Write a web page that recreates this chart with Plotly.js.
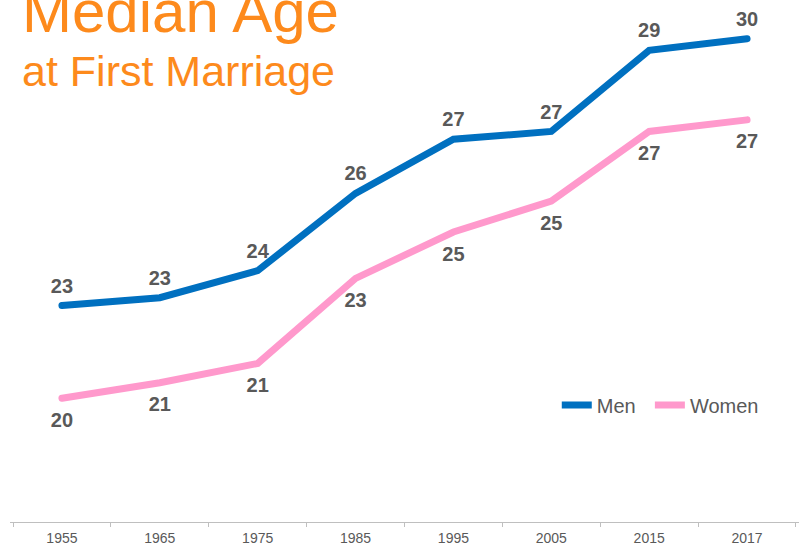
<!DOCTYPE html>
<html>
<head>
<meta charset="utf-8">
<script src="https://cdn.plot.ly/plotly-3.0.1.min.js"></script>
<style>
  html, body { margin: 0; padding: 0; background: #ffffff; }
  #chart { width: 804px; height: 546px; }
  .scatterlayer .js-line { stroke-linecap: round; }
</style>
</head>
<body>
<div id="chart"></div>
<script>
// Data
var years = ['1955', '1965', '1975', '1985', '1995', '2005', '2015', '2017'];
var menAge = [22.6, 22.8, 23.5, 25.5, 26.9, 27.1, 29.2, 29.5];
var womenAge = [20.2, 20.6, 21.1, 23.3, 24.5, 25.3, 27.1, 27.4];
var seriesNames = ['Men', 'Women'];
var titleMain = 'Median Age';
var titleSub = 'at First Marriage';

var labelFont = { family: 'Liberation Sans, Arial, sans-serif', size: 20, color: '#595959', weight: 'bold' };

var traces = [
  {
    x: years, y: menAge, name: seriesNames[0], type: 'scatter', mode: 'lines+markers+text',
    line: { color: '#0070C0', width: 7 },
    marker: { size: 11, color: 'rgba(0,0,0,0)' },
    texttemplate: '<b>%{y:.0f}</b>', textposition: 'top center',
    textfont: labelFont, cliponaxis: false, hoverinfo: 'skip',
    legend: 'legend'
  },
  {
    x: years, y: womenAge, name: seriesNames[1], type: 'scatter', mode: 'lines+markers+text',
    line: { color: '#FF99CC', width: 7 },
    marker: { size: 20, color: 'rgba(0,0,0,0)' },
    texttemplate: '<b>%{y:.0f}</b>', textposition: 'bottom center',
    textfont: labelFont, cliponaxis: false, hoverinfo: 'skip',
    legend: 'legend2'
  }
];

var legendCommon = {
  orientation: 'h', xanchor: 'left', y: 0.224, yanchor: 'middle',
  font: { size: 20, color: '#595959' }, bgcolor: 'rgba(0,0,0,0)'
};

var layout = {
  width: 804, height: 546,
  margin: { l: 10, r: 5, t: 0, b: 24, autoexpand: false },
  paper_bgcolor: '#ffffff', plot_bgcolor: '#ffffff',
  font: { family: 'Liberation Sans, Arial, sans-serif', color: '#595959' },
  xaxis: {
    type: 'category', tickson: 'boundaries', ticks: 'outside', ticklen: 4,
    tickcolor: '#BFBFBF', showline: true, linecolor: '#BFBFBF', linewidth: 1,
    showgrid: false, zeroline: false, fixedrange: true, ticklabelstandoff: 3,
    tickfont: { size: 14, color: '#595959' }
  },
  yaxis: { range: [17.0, 30.5], visible: false, fixedrange: true },
  showlegend: true,
  legend: Object.assign({}, legendCommon, { x: 0.693 }),
  legend2: Object.assign({}, legendCommon, { x: 0.811 }),
  annotations: [
    {
      text: titleMain, xref: 'paper', yref: 'paper', x: 0.0127, y: 0.9105,
      xanchor: 'left', yanchor: 'bottom', showarrow: false,
      font: { family: 'Liberation Sans, Arial, sans-serif', size: 60, color: '#FD8A1C' }
    },
    {
      text: titleSub, xref: 'paper', yref: 'paper', x: 0.0127, y: 0.814,
      xanchor: 'left', yanchor: 'bottom', showarrow: false,
      font: { family: 'Liberation Sans, Arial, sans-serif', size: 43, color: '#FD8A1C' }
    }
  ]
};

Plotly.newPlot('chart', traces, layout, { displayModeBar: false, staticPlot: true });
</script>
</body>
</html>
